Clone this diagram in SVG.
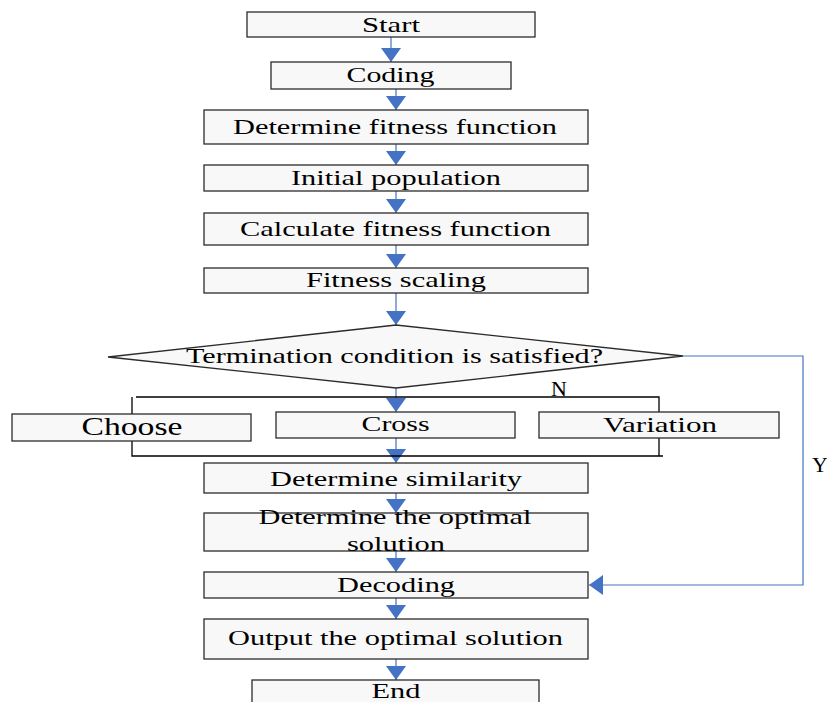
<svg xmlns="http://www.w3.org/2000/svg" width="827" height="702" viewBox="0 0 827 702">
<defs>
<style>
.box{fill:#f8f8f8;stroke:#2b2b2b;stroke-width:1.3}
.t{font-family:"Liberation Serif","Times New Roman",serif;font-size:22px;fill:#000;text-anchor:middle}
.c{stroke:#4472c4;stroke-width:1.2;fill:none}
.br{stroke:#000;stroke-width:1.3;fill:none}
</style>
<marker id="ah" markerUnits="userSpaceOnUse" markerWidth="14" markerHeight="20" refX="14" refY="10" orient="auto" viewBox="0 0 14 20">
<path d="M0,0 L14,10 L0,20 Z" fill="#4472c4"/>
</marker>
</defs>
<rect width="827" height="702" fill="#fff"/>

<g id="connectors">
<line class="c" x1="391" y1="37" x2="391" y2="62" marker-end="url(#ah)"/>
<line class="c" x1="396" y1="89" x2="396" y2="110" marker-end="url(#ah)"/>
<line class="c" x1="396" y1="144" x2="396" y2="165" marker-end="url(#ah)"/>
<line class="c" x1="396" y1="191" x2="396" y2="213" marker-end="url(#ah)"/>
<line class="c" x1="396" y1="245" x2="396" y2="268" marker-end="url(#ah)"/>
<line class="c" x1="396" y1="293" x2="396" y2="325" marker-end="url(#ah)"/>
<line class="c" x1="396" y1="388" x2="396" y2="412" marker-end="url(#ah)"/>
<line class="c" x1="396" y1="438" x2="396" y2="463" marker-end="url(#ah)"/>
<line class="c" x1="396" y1="493" x2="396" y2="513" marker-end="url(#ah)"/>
<line class="c" x1="396" y1="551" x2="396" y2="572" marker-end="url(#ah)"/>
<line class="c" x1="396" y1="598" x2="396" y2="619" marker-end="url(#ah)"/>
<line class="c" x1="396" y1="659" x2="396" y2="680" marker-end="url(#ah)"/>
<polyline class="c" points="683,356 803,356 803,585 589,585" marker-end="url(#ah)"/>
<path class="br" d="M136,397 H659 V456 M132,397 V456 H663"/>
<text class="t" x="559" y="396">N</text>
<text class="t" x="820" y="472">Y</text>
</g>

<g id="start"><rect class="box" x="247" y="12" width="288" height="25"/><text class="t" x="391" y="31.5" textLength="58" lengthAdjust="spacingAndGlyphs">Start</text></g>
<g id="coding"><rect class="box" x="271" y="62" width="240" height="27"/><text class="t" x="390.5" y="81.5" textLength="88" lengthAdjust="spacingAndGlyphs">Coding</text></g>
<g id="fitness-fn"><rect class="box" x="204" y="110" width="384" height="34"/><text class="t" x="395" y="133.5" textLength="324" lengthAdjust="spacingAndGlyphs">Determine fitness function</text></g>
<g id="init-pop"><rect class="box" x="204" y="165" width="384" height="26"/><text class="t" x="396" y="185" textLength="210" lengthAdjust="spacingAndGlyphs">Initial population</text></g>
<g id="calc-fitness"><rect class="box" x="204" y="213" width="384" height="32"/><text class="t" x="395.5" y="236" textLength="311" lengthAdjust="spacingAndGlyphs">Calculate fitness function</text></g>
<g id="fitness-scaling"><rect class="box" x="204" y="268" width="384" height="25"/><text class="t" x="396" y="286.5" textLength="180" lengthAdjust="spacingAndGlyphs">Fitness scaling</text></g>
<g id="termination"><polygon class="box" points="108,357 396,325 683,356 396,388"/><text class="t" x="394.5" y="363" textLength="417" lengthAdjust="spacingAndGlyphs">Termination condition is satisfied?</text></g>
<g id="choose"><rect class="box" x="12" y="414" width="239" height="27"/><text class="t" x="132" y="435" style="font-size:26px" textLength="101" lengthAdjust="spacingAndGlyphs">Choose</text></g>
<g id="cross"><rect class="box" x="276" y="412" width="239" height="26"/><text class="t" x="395.5" y="431" textLength="68" lengthAdjust="spacingAndGlyphs">Cross</text></g>
<g id="variation"><rect class="box" x="539" y="412" width="240" height="26"/><text class="t" x="660" y="431.5" textLength="114" lengthAdjust="spacingAndGlyphs">Variation</text></g>
<g id="similarity"><rect class="box" x="204" y="463" width="384" height="30"/><text class="t" x="396" y="486" textLength="252" lengthAdjust="spacingAndGlyphs">Determine similarity</text></g>
<g id="optimal"><rect class="box" x="204" y="513" width="384" height="38"/><text class="t" x="395" y="523.5" textLength="273" lengthAdjust="spacingAndGlyphs">Determine the optimal</text><text class="t" x="396" y="551" textLength="98" lengthAdjust="spacingAndGlyphs">solution</text></g>
<g id="decoding"><rect class="box" x="204" y="572" width="384" height="26"/><text class="t" x="396" y="592" textLength="118" lengthAdjust="spacingAndGlyphs">Decoding</text></g>
<g id="output"><rect class="box" x="204" y="619" width="384" height="40"/><text class="t" x="395.5" y="645" textLength="335" lengthAdjust="spacingAndGlyphs">Output the optimal solution</text></g>
<g id="end"><rect class="box" x="252" y="680" width="287" height="30"/><text class="t" x="396" y="698" textLength="49" lengthAdjust="spacingAndGlyphs">End</text></g>
</svg>
